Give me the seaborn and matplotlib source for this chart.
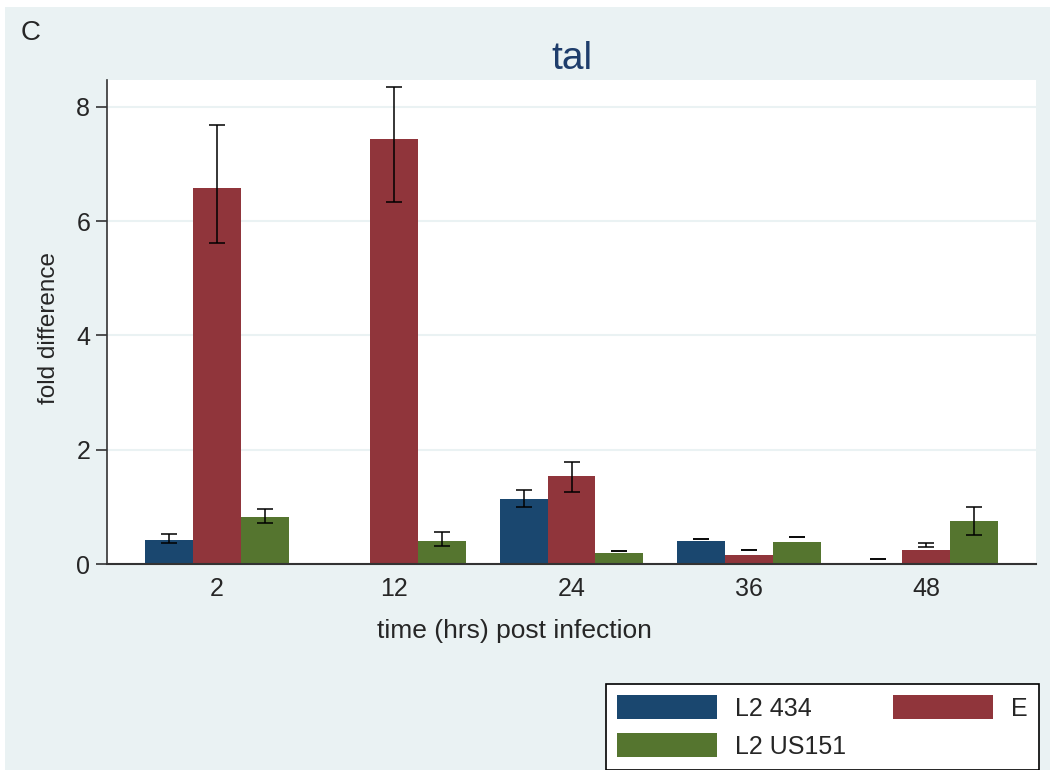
import numpy as np
import pandas as pd
import matplotlib
matplotlib.use('Agg')
import matplotlib.pyplot as plt
from matplotlib.patches import Rectangle
import seaborn as sns

# values (fold difference vs time post infection)
times = ['2', '12', '24', '36', '48']
strains = ['L2 434', 'E', 'L2 US151']

l2_434 = [0.42, np.nan, 1.14, 0.40, 0.01]
l2_434_lo = [0.37, np.nan, 1.00, 0.44, 0.09]
l2_434_hi = [0.53, np.nan, 1.29, 0.44, 0.09]

e_val = [6.58, 7.44, 1.54, 0.16, 0.24]
e_lo = [5.62, 6.34, 1.26, 0.25, 0.29]
e_hi = [7.69, 8.35, 1.79, 0.25, 0.37]

us151 = [0.83, 0.41, 0.19, 0.38, 0.76]
us151_lo = [0.72, 0.31, 0.22, 0.47, 0.50]
us151_hi = [0.97, 0.56, 0.22, 0.47, 1.00]

colors = ['#1A476F', '#90353B', '#55752F']
bg = '#EAF2F3'

df = pd.DataFrame({
    'time': times * 3,
    'strain': [s for s in strains for _ in times],
    'value': l2_434 + e_val + us151,
    'lo': l2_434_lo + e_lo + us151_lo,
    'hi': l2_434_hi + e_hi + us151_hi,
})

sns.set_style('white')
plt.rcParams['font.family'] = ['Liberation Sans', 'DejaVu Sans']

fig = plt.figure(figsize=(10.5, 7.7), dpi=100, facecolor='white')
fig.patches.append(Rectangle((5 / 1050, 0), 1, 1 - 7 / 770, transform=fig.transFigure,
                             facecolor=bg, edgecolor='none', zorder=-10))
ax = fig.add_axes([107 / 1050, 1 - 564 / 770, (1036 - 107) / 1050, (564 - 80) / 770])

plot_df = df.dropna(subset=['value'])
sns.barplot(data=plot_df, x='time', y='value', hue='strain', order=times, hue_order=strains,
            palette=colors, saturation=1, width=0.81, gap=0, linewidth=0,
            errorbar=None, legend=False, ax=ax)

# error bars at the drawn bar centres
for cont, s in zip(ax.containers, strains):
    sub = plot_df[plot_df['strain'] == s]
    for bar, (_, row) in zip(cont, sub.iterrows()):
        xc = bar.get_x() + bar.get_width() / 2
        mid = (row['lo'] + row['hi']) / 2
        half = (row['hi'] - row['lo']) / 2
        ax.errorbar(xc, mid, yerr=half, fmt='none', ecolor='black',
                    elinewidth=1.1, capsize=5.8, capthick=1.1, zorder=5)

ax.set_xlim(-0.62, 4.62)
ax.set_ylim(0, 8.47)
ax.set_yticks([0, 2, 4, 6, 8])
ax.yaxis.grid(True, color=bg, linewidth=1.5)
ax.set_axisbelow(True)
for sp in ['top', 'right']:
    ax.spines[sp].set_visible(False)
ax.spines['left'].set_color('#333333')
ax.spines['bottom'].set_color('#333333')
ax.spines['left'].set_linewidth(1.2)
ax.spines['bottom'].set_linewidth(1.5)
ax.tick_params(axis='y', length=8, width=1.2, color='#333333', pad=4, labelsize=18, left=True)
ax.tick_params(axis='x', length=0, pad=9, labelsize=18)

ax.set_title('tal', fontsize=28, color='#1E3D6B', pad=8)
ax.set_xlabel('time (hrs) post infection', fontsize=19)
ax.xaxis.set_label_coords(0.439, -0.114)
ax.set_ylabel('fold difference', fontsize=17.5)
ax.yaxis.set_label_coords(-0.0506, 0.4876)
fig.text(21 / 1050, 1 - 33 / 770, 'C', fontsize=20, va='center', ha='left')

# legend entries ordered so the columns read: L2 434 | E, then L2 US151
leg_order = [0, 2, 1]
handles = [Rectangle((0, 0), 1, 1, facecolor=colors[i], edgecolor='none') for i in leg_order]
labels = [strains[i] for i in leg_order]
leg = fig.legend(handles, labels, ncol=2, loc='upper left',
                 bbox_to_anchor=(606 / 1050, 1 - 684 / 770), borderaxespad=0,
                 fontsize=18, frameon=True, fancybox=False, edgecolor='black',
                 handlelength=4.0, handleheight=1.1, handletextpad=0.7,
                 columnspacing=1.9, labelspacing=0.5, borderpad=0.45)
leg.get_frame().set_linewidth(1.2)
leg.get_frame().set_facecolor('white')
leg.get_frame().set_alpha(1)

fig.savefig('out.png', dpi=100, facecolor=fig.get_facecolor())
